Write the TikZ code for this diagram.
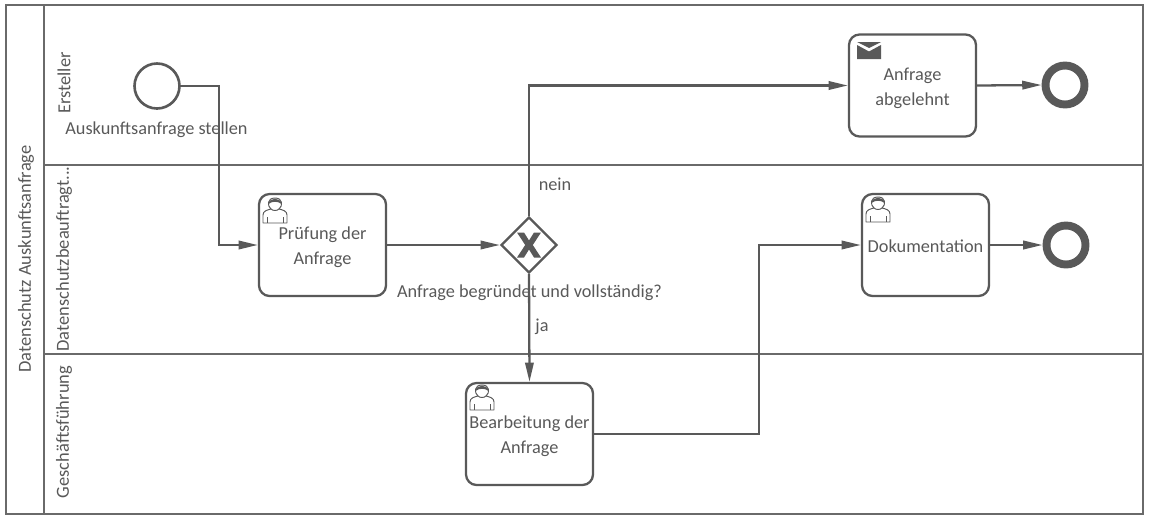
\documentclass[tikz,border=0pt]{standalone}
\usepackage{fontspec}
\setmainfont{Carlito}
\usetikzlibrary{arrows.meta}
\usetikzlibrary{shapes.geometric}

\definecolor{bpmn}{HTML}{595959}
\definecolor{pool}{HTML}{6A6A6A}
\def\px{0.02cm}
\newcommand{\tasklift}[1]{\rule{0pt}{#1}}

\tikzset{
    label text/.style={text=bpmn, inner sep=0pt, font=\fontsize{10.4}{14.2}\selectfont},
    lane text/.style={label text, font=\fontsize{10.5}{14.2}\selectfont, rotate=90},
    task/.style={draw=bpmn, line width=1.3pt, rounded corners=6pt, fill=white, inner sep=0pt,
        minimum width=127*\px, minimum height=102*\px, align=center, text=bpmn,
        font=\fontsize{10.4}{14.2}\selectfont},
    start event/.style={circle, draw=bpmn, line width=1.5pt, fill=white, minimum size=45*\px, inner sep=0pt},
    end event/.style={circle, draw=bpmn, line width=4.5pt, fill=white, minimum size=39*\px, inner sep=0pt},
    gateway/.style={diamond, draw=bpmn, line width=1.3pt, fill=white, aspect=1, minimum size=56*\px, inner sep=0pt},
    flow/.style={draw=bpmn, line width=1.3pt, -{Stealth[length=11pt, width=4.8pt, inset=0pt]}},
    pool line/.style={draw=pool, line width=0.9pt},
    usericon/.pic={
        \draw[bpmn, line width=0.55pt, line join=round, fill=white]
            (-12,12) -- (-12,4) .. controls (-12,0) and (-8,-1) .. (-4,-2)
            .. controls (-8,-5) and (-8,-13) .. (0,-13) .. controls (8,-13) and (8,-5) .. (4,-2)
            .. controls (8,-1) and (12,0) .. (12,4) -- (12,12) -- cycle;
        \draw[bpmn, line width=0.55pt] (-8,6) -- (-8,12) (8,6) -- (8,12);
        \draw[bpmn, line width=0.55pt] (-4,-2) .. controls (-2,0) and (2,0) .. (4,-2);
        \fill[bpmn] (-6.5,-7) .. controls (-6,-14) and (6,-14) .. (6.5,-7) .. controls (3,-10) and (-3,-10) .. cycle;
    },
    mailicon/.pic={
        \fill[bpmn] (-12,-5.5) -- (0,1) -- (12,-5.5) -- (12,8.5) -- (-12,8.5) -- cycle;
        \fill[bpmn] (-12,-8.5) -- (12,-8.5) -- (0,-2.5) -- cycle;
    },
    gatewaymark/.pic={
        \fill[bpmn] (-12,-12.5) -- (-5,-12.5) -- (0,-4.5) -- (5,-12.5) -- (12,-12.5) -- (3.8,0)
            -- (12,12.5) -- (5,12.5) -- (0,4.5) -- (-5,12.5) -- (-12,12.5) -- (-3.8,0) -- cycle;
    },
}

\begin{document}
\begin{tikzpicture}[x=\px, y=-\px]
    \useasboundingbox (0,0) rectangle (1149,521);

    % pool and lanes
    \draw[pool line] (6,5) rectangle (1143,514);
    \draw[pool line] (44,5) -- (44,514);
    \foreach \y in {165,354}
        \draw[pool line] (44,\y) -- (1143,\y);

    \node[lane text] (poolname) at (26,259) {Datenschutz Auskunftsanfrage};
    \node[lane text] (ersteller) at (64,83) {Ersteller};
    \node[lane text] (beauftragter) at (64,259) {Datenschutzbeauftragt...};
    \node[lane text] (fuehrung) at (64,432) {Geschäftsführung};

    % labels go under the flows
    \node[label text] (startlabel) at (156.5,130) {Auskunftsanfrage stellen};
    \node[label text] (gwlabel) at (529.5,293) {Anfrage begründet und vollständig?};
    \node[label text] (nein) at (555,184) {nein};
    \node[label text] (ja) at (542,327) {ja};

    % events, tasks, gateway
    \node[start event] (start) at (157,86) {};
    \node[task] (pruefung) at (322.5,245) {\tasklift{10pt}Prüfung der\\Anfrage};
    \node[gateway] (check) at (529,245) {};
    \node[task] (abgelehnt) at (912.5,85.5) {\tasklift{10pt}Anfrage\\abgelehnt};
    \node[task] (doku) at (925.5,245) {\tasklift{8.7pt}Dokumentation};
    \node[task] (bearbeitung) at (529.5,434) {\tasklift{10pt}Bearbeitung der\\Anfrage};
    \node[end event] (endA) at (1065,85) {};
    \node[end event] (endB) at (1066,245) {};

    \coordinate (knickA) at (219,86);
    \coordinate (knickB) at (759,245);

    % flows
    \draw[flow] (start.east) -| (knickA) |- (pruefung.west);
    \draw[flow] (pruefung.east) -- (check.west);
    \draw[flow] (check.north) |- (abgelehnt.west);
    \draw[flow] (check.south) -- (bearbeitung.north);
    \draw[flow] (bearbeitung.east) -| (knickB) -- (doku.west);
    \draw[flow] (abgelehnt.east) -- (endA.west);
    \draw[flow] (doku.east) -- (endB.west);

    % gateway and task icons
    \pic at (529,245) {gatewaymark};
    \pic at (275,211) {usericon};
    \pic at (482,398) {usericon};
    \pic at (878,210) {usericon};
    \pic at (869,50.5) {mailicon};
\end{tikzpicture}
\end{document}
